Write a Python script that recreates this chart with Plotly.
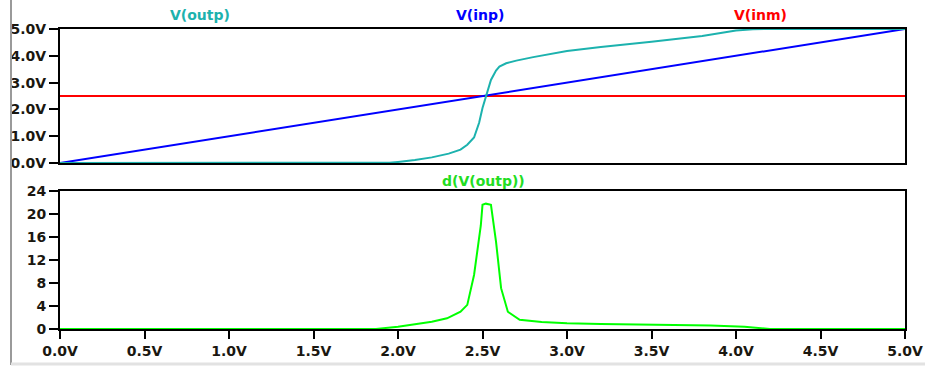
import plotly.graph_objects as go
from plotly.subplots import make_subplots

# Sweep of the input voltage (V)
sweep_lin = [0.0, 5.0]
v_inp = [0.0, 5.0]
v_inm = [2.5, 2.5]

# Comparator output versus sweep
sweep_out = [0.0, 1.9, 1.95, 2.0, 2.1, 2.2, 2.3, 2.37, 2.41, 2.45, 2.48, 2.5, 2.52,
             2.55, 2.58, 2.6, 2.64, 2.7, 2.8, 3.0, 3.2, 3.5, 3.8, 3.9, 4.0, 4.1, 4.2, 5.0]
v_outp = [0.0, 0.0, 0.01, 0.04, 0.11, 0.21, 0.35, 0.5, 0.68, 0.95, 1.5, 2.05, 2.5,
          3.1, 3.45, 3.6, 3.72, 3.82, 3.95, 4.18, 4.33, 4.52, 4.74, 4.85, 4.94, 4.99, 5.0, 5.0]

# Derivative of the output
sweep_d = [0.0, 1.87, 2.0, 2.1, 2.2, 2.29, 2.37, 2.41, 2.45, 2.49, 2.5, 2.52, 2.55,
           2.58, 2.61, 2.65, 2.72, 2.85, 3.0, 3.2, 3.5, 3.85, 4.05, 4.2, 5.0]
d_outp = [0.0, 0.0, 0.4, 0.8, 1.27, 1.86, 3.0, 4.2, 9.4, 18.0, 21.6, 21.8, 21.6,
          15.2, 7.1, 3.0, 1.6, 1.2, 1.0, 0.87, 0.8, 0.6, 0.4, 0.0, 0.0]

x_ticks = [0.0, 0.5, 1.0, 1.5, 2.0, 2.5, 3.0, 3.5, 4.0, 4.5, 5.0]
x_ticktext = ["0.0V", "0.5V", "1.0V", "1.5V", "2.0V", "2.5V", "3.0V", "3.5V", "4.0V", "4.5V", "5.0V"]
v_ticks = [0, 1, 2, 3, 4, 5]
v_ticktext = ["0.0V", "1.0V", "2.0V", "3.0V", "4.0V", "5.0V"]
d_ticks = [0, 4, 8, 12, 16, 20, 24]
d_ticktext = ["0", "4", "8", "12", "16", "20", "24"]

TEAL = "rgb(28,178,174)"
BLUE = "rgb(0,0,255)"
RED = "rgb(255,0,0)"
GREEN = "rgb(0,255,0)"
INK = "#1a1710"
FONT = "DejaVu Sans"

fig = make_subplots(rows=2, cols=1, shared_xaxes=False, vertical_spacing=0.0)

fig.add_trace(go.Scatter(x=sweep_lin, y=v_inm, mode="lines", line=dict(color=RED, width=2)), row=1, col=1)
fig.add_trace(go.Scatter(x=sweep_lin, y=v_inp, mode="lines", line=dict(color=BLUE, width=2)), row=1, col=1)
fig.add_trace(go.Scatter(x=sweep_out, y=v_outp, mode="lines", line=dict(color=TEAL, width=2)), row=1, col=1)
fig.add_trace(go.Scatter(x=sweep_d, y=d_outp, mode="lines", line=dict(color=GREEN, width=2)), row=2, col=1)

tickfont = dict(family=FONT, size=14, color=INK, weight="bold")
axis_common = dict(showline=True, linecolor="black", linewidth=2, mirror=True,
                   showgrid=False, zeroline=False, tickcolor="black", automargin=False,
                   tickwidth=2, tickfont=tickfont)

fig.update_xaxes(range=[0, 5], tickvals=x_ticks, ticktext=x_ticktext, showticklabels=False,
                 ticks="", domain=[0, 1], row=1, col=1, **axis_common)
fig.update_xaxes(range=[0, 5], tickvals=x_ticks, ticktext=x_ticktext, ticks="outside", ticklen=8,
                 domain=[0, 1], row=2, col=1, **axis_common)
fig.update_yaxes(range=[0, 5], tickvals=v_ticks, ticktext=v_ticktext, ticks="outside", ticklen=9,
                 domain=[0.5533, 1], row=1, col=1, **axis_common)
fig.update_yaxes(range=[0, 24], tickvals=d_ticks, ticktext=d_ticktext, ticks="outside", ticklen=9,
                 domain=[0, 0.46], row=2, col=1, **axis_common)

titles = [("V(outp)", 200, 15, TEAL), ("V(inp)", 480, 15, BLUE),
          ("V(inm)", 760, 15, RED), ("d(V(outp))", 483, 181, "rgb(34,221,34)")]
W, H = 925, 366
L, R, T, B = 60, 20, 29, 37
for text, px, py, col in titles:
    fig.add_annotation(text=text, xref="paper", yref="paper",
                       x=(px - L) / (W - L - R), y=1 - (py - T) / (H - T - B),
                       xanchor="center", yanchor="middle", showarrow=False,
                       font=dict(family=FONT, size=14, color=col, weight="bold"))

# window edges
fig.add_shape(type="line", xref="paper", yref="paper",
              x0=(11 - L) / (W - L - R), x1=(11 - L) / (W - L - R),
              y0=1 + T / (H - T - B), y1=-(B - 1) / (H - T - B),
              line=dict(color="#9a9a9a", width=2))
fig.add_shape(type="line", xref="paper", yref="paper",
              x0=(11 - L) / (W - L - R), x1=1 + R / (W - L - R),
              y0=-(B - 2) / (H - T - B), y1=-(B - 2) / (H - T - B),
              line=dict(color="#e2e2e2", width=3))

fig.update_layout(width=W, height=H, margin=dict(l=L, r=R, t=T, b=B, autoexpand=False),
                  paper_bgcolor="white", plot_bgcolor="white", showlegend=False)

fig.write_html("out.html")
